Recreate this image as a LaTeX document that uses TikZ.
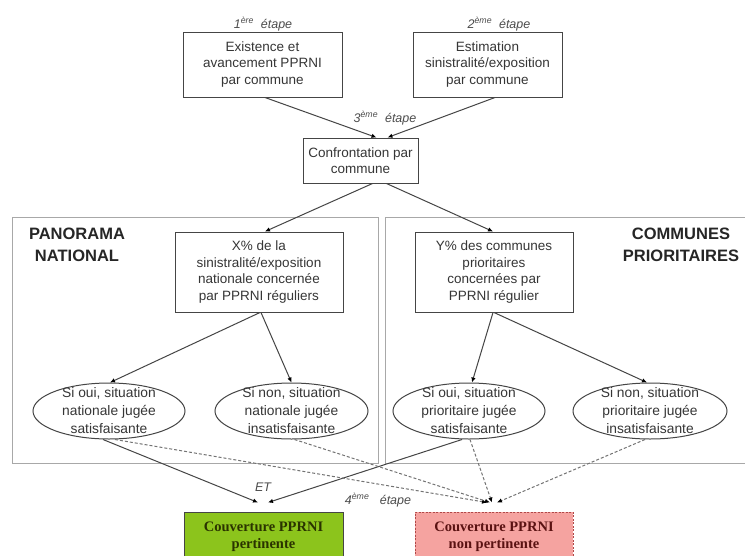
\documentclass[tikz,border=0pt]{standalone}
\usepackage{fontspec}
\setmainfont{Liberation Sans}
\newfontfamily\serifbold{Liberation Serif}
\usetikzlibrary{arrows.meta,shapes.geometric,calc}
\definecolor{linegray}{HTML}{454545}
\definecolor{panelgray}{HTML}{A8A8A8}
\definecolor{txtgray}{HTML}{363636}
\definecolor{okgreen}{HTML}{8CC41C}
\definecolor{okgreentxt}{HTML}{2A3300}
\definecolor{nokpink}{HTML}{F5A3A0}
\definecolor{nokborder}{HTML}{B04848}
\definecolor{noktxt}{HTML}{5A1212}
\begin{document}
\begin{tikzpicture}[x=1pt,y=-1pt,
  box/.style={draw=linegray, line width=1pt, fill=white, inner sep=3pt,
    font=\fontsize{13.5}{16.5}\selectfont, text=txtgray, align=center},
  ell/.style={draw=linegray, line width=1pt, ellipse, inner sep=0pt, minimum height=56},
  elltxt/.style={font=\fontsize{13.8}{18}\selectfont, text=txtgray, align=center, inner sep=0pt},
  panel/.style={draw=panelgray, line width=1pt},
  heading/.style={font=\bfseries\fontsize{16.5}{22}\selectfont, text=black!85, align=center, inner sep=0pt},
  steplbl/.style={font=\itshape\fontsize{12.5}{14}\selectfont, text=black!70, inner sep=0pt},
  arr/.style={-{Latex[length=5pt,width=4.5pt,color=black]}, draw=linegray, line width=1pt},
  darr/.style={arr, draw=black!55, dash pattern=on 3pt off 2pt},
  result/.style={line width=1pt, inner sep=3pt, align=center,
    font=\serifbold\bfseries\fontsize{14.5}{17}\selectfont}
]
\useasboundingbox (0,0) rectangle (745,555);
\clip (0,0) rectangle (745,555);
\fill[white] (0,0) rectangle (745,555);

% panels
\draw[panel] (12,217) rectangle (378,463);
\draw[panel] (385,217) rectangle (760,463);
\node[heading] (hl) at (77,245) {PANORAMA\\NATIONAL};
\node[heading] (hr) at (681,245) {COMMUNES\\PRIORITAIRES};

% top boxes
\node[box, minimum width=159, minimum height=65] (b1) at (262.5,64.5) {Existence et\\avancement PPRNI\\par commune};
\node[box, minimum width=149, minimum height=65] (b2) at (487.5,64.5) {Estimation\\sinistralité/exposition\\par commune};
\node[box, minimum width=115, minimum height=45] (b3) at (360.5,160.5) {Confrontation par\\commune};
\node[box, minimum width=168, minimum height=80] (b4) at (259,272) {X\% de la\\sinistralité/exposition\\nationale concernée\\par PPRNI réguliers};
\node[box, minimum width=158, minimum height=80] (b5) at (494,272) {Y\% des communes\\prioritaires\\concernées par\\PPRNI régulier};

% step labels
\node[steplbl] (s1) at (263,24) {1\textsuperscript{ère}\ \ étape};
\node[steplbl] (s2) at (499,24) {2\textsuperscript{ème}\ \ étape};
\node[steplbl] (s3) at (385,118) {3\textsuperscript{ème}\ \ étape};
\node[steplbl] (s4) at (378,500) {4\textsuperscript{ème}\ \ \ étape};
\node[steplbl] (et) at (263,487) {ET};

% ellipses
\node[ell, minimum width=152] (e1) at (109,411) {};
\node[ell, minimum width=153] (e2) at (291.5,411) {};
\node[ell, minimum width=152] (e3) at (469,411) {};
\node[ell, minimum width=154] (e4) at (650,411) {};
\node[elltxt] (t1) at (e1) {Si oui, situation\\nationale jugée\\satisfaisante};
\node[elltxt] (t2) at (e2) {Si non, situation\\nationale jugée\\insatisfaisante};
\node[elltxt] (t3) at (e3) {Si oui, situation\\prioritaire jugée\\satisfaisante};
\node[elltxt] (t4) at (e4) {Si non, situation\\prioritaire jugée\\insatisfaisante};

% result boxes
\node[result, draw=linegray, fill=okgreen, text=okgreentxt, minimum width=159, minimum height=50] (ok) at (263.5,537) {Couverture PPRNI\\pertinente};
\node[result, draw=nokborder, dash pattern=on 2pt off 1.5pt, fill=nokpink, text=noktxt, minimum width=158, minimum height=50] (nok) at (494,537) {Couverture PPRNI\\non pertinente};

\coordinate (g1) at ($(ok.north)+(-5.5,-9)$);
\coordinate (g2) at ($(ok.north)+(4.5,-9)$);
\coordinate (p1) at ($(nok.north)+(-7,-9)$);
\coordinate (p2) at ($(nok.north)+(-4,-9)$);
\coordinate (p3) at ($(nok.north)+(-2,-9)$);
\coordinate (p4) at ($(nok.north)+(3,-9)$);

% connectors
\draw[arr] ($(b1.south)+(2.5,0)$) -- ($(b3.north)+(16,0)$);
\draw[arr] ($(b2.south)+(7.5,0)$) -- ($(b3.north)+(27,0)$);
\draw[arr] ($(b3.south)+(12,0)$) -- ($(b4.north)+(6,0)$);
\draw[arr] ($(b3.south)+(26,0)$) -- ($(b5.north)+(-1,0)$);
\draw[arr] ($(b4.south)+(1,0)$) -- ($(e1.north)+(1,0)$);
\draw[arr] ($(b4.south)+(2,0)$) -- (e2.north);
\draw[arr] ($(b5.south)+(-1,0)$) -- ($(e3.north)+(3,0)$);
\draw[arr] ($(b5.south)+(0,0)$) -- ($(e4.north)+(-3,0)$);
\draw[arr] ($(e1.south)+(-6,0)$) -- (g1);
\draw[arr] ($(e3.south)+(-7,0)$) -- (g2);
\draw[darr] ($(e1.south)+(6,0)$) -- (p1);
\draw[darr] ($(e2.south)+(3,0)$) -- (p2);
\draw[darr] ($(e3.south)+(1,0)$) -- (p3);
\draw[darr] ($(e4.south)+(-5,0)$) -- (p4);
\end{tikzpicture}
\end{document}
